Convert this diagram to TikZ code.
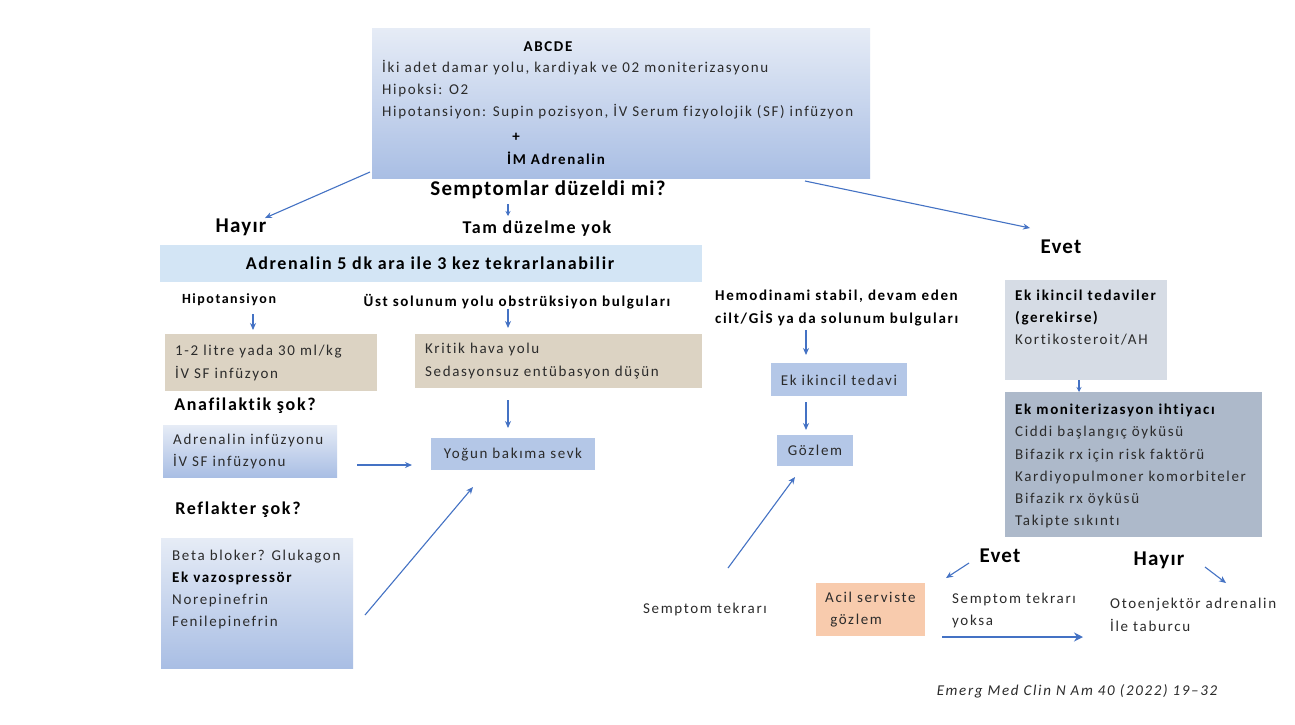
\documentclass[tikz,border=0pt]{standalone}
\usepackage{fontspec}
\setmainfont{Carlito}[LetterSpace=11, Ligatures=NoCommon]
\newfontfamily\hdfont{Carlito}[LetterSpace=6, Ligatures=NoCommon]
\newfontfamily\mdfont{Carlito}[LetterSpace=9, Ligatures=NoCommon]
\usetikzlibrary{arrows.meta}
\definecolor{arr}{HTML}{4472C4}
\definecolor{bluebox}{HTML}{B4C7E7}
\definecolor{beige}{HTML}{DCD3C3}
\definecolor{band}{HTML}{D3E5F5}
\definecolor{gtop}{HTML}{E6ECF6}
\definecolor{gbot}{HTML}{A9BEE4}
\definecolor{grey1}{HTML}{D6DCE5}
\definecolor{grey2}{HTML}{ADB9CA}
\definecolor{peach}{HTML}{F8CBAD}
\definecolor{txt}{HTML}{2B2B2B}
\tikzset{
  conn/.style={draw=arr, line width=1.1pt, -{Stealth[length=7pt,width=6pt]}},
  thickconn/.style={draw=arr, line width=2.6pt, -{Stealth[length=9pt,width=9pt]}},
  box/.style={draw=none, anchor=north west, inner sep=0pt, outer sep=0pt},
  gbox/.style={box, top color=gtop, bottom color=gbot},
  body/.style={anchor=north west, inner sep=0pt, align=left, text=txt, font=\fontsize{15}{22}\selectfont},
  bhead/.style={inner sep=0pt, text=black, font=\hdfont\fontsize{21}{24}\selectfont\bfseries},
  mhead/.style={inner sep=0pt, text=black, font=\mdfont\fontsize{18}{20}\selectfont\bfseries},
  shead/.style={inner sep=0pt, text=black, font=\fontsize{15}{22}\selectfont\bfseries, align=left},
  ltxt/.style={inner sep=0pt, text=txt, font=\fontsize{15}{16}\selectfont},
}
\begin{document}
\begin{tikzpicture}[x=1pt,y=-1pt]
\useasboundingbox (0,0) rectangle (1295,724);
\fill[white] (0,0) rectangle (1295,724);

% top box
\node[gbox, minimum width=498pt, minimum height=150pt] (top) at (372,28) {};
\node[shead] (abcde) at (548,47) {ABCDE};
\node[body] (toptext) at (382,60) {İki adet damar yolu, kardiyak ve 02 moniterizasyonu\\Hipoksi: O2\\Hipotansiyon: Supin pozisyon, İV Serum fizyolojik (SF) infüzyon};
\node[shead] (plus) at (516,137) {+};
\node[shead] (im) at (556,158) {İM Adrenalin};

\node[bhead] (sempt) at (548,190) {Semptomlar düzeldi mi?};
\node[bhead] (hayir1) at (241,227) {Hayır};
\node[mhead] (tam) at (537,229) {Tam düzelme yok};
\node[bhead] (evet1) at (1061,247) {Evet};

% band
\node[box, fill=band, minimum width=542pt, minimum height=37pt] (band) at (160,245) {};
\node[mhead] (bandtxt) at (430,263) {Adrenalin 5 dk ara ile 3 kez tekrarlanabilir};

\node[shead, font=\fontsize{14}{16}\selectfont\bfseries] (hipo) at (229,300) {Hipotansiyon};
\node[shead] (ust) at (517,302) {Üst solunum yolu obstrüksiyon bulguları};

\node[box, fill=beige, minimum width=212pt, minimum height=57pt] (sf) at (165,334) {};
\node[body, font=\fontsize{15}{23}\selectfont] (sftxt) at (175,345) {1-2 litre yada 30 ml/kg\\İV SF infüzyon};
\node[box, fill=beige, minimum width=287pt, minimum height=54pt] (krit) at (415,334) {};
\node[body, font=\fontsize{15}{23}\selectfont] (krittxt) at (425,343) {Kritik hava yolu\\Sedasyonsuz entübasyon düşün};

\node[mhead] (anaf) at (245,406) {Anafilaktik şok?};
\node[gbox, minimum width=174pt, minimum height=52pt] (anafbox) at (163,425) {};
\node[body] (anaftxt) at (173,434) {Adrenalin infüzyonu\\İV SF infüzyonu};

\node[box, fill=bluebox, minimum width=164pt, minimum height=32pt] (yogun) at (431,438) {};
\node[ltxt] (yoguntxt) at (513,455) {Yoğun bakıma sevk};

\node[mhead] (refl) at (238,510) {Reflakter şok?};
\node[gbox, minimum width=192pt, minimum height=130pt] (reflbox) at (161,538) {};
\node[body] (refltxt) at (172,550) {Beta bloker? Glukagon\\\textbf{\color{black}Ek vazospressör}\\Norepinefrin\\Fenilepinefrin};

% middle column
\node[shead, anchor=north west, font=\fontsize{15}{23}\selectfont\bfseries] (hemo) at (715,290) {Hemodinami stabil, devam eden\\cilt/GİS ya da solunum bulguları};
\node[box, fill=bluebox, minimum width=136pt, minimum height=33pt] (ekik) at (771,363) {};
\node[ltxt] (ekiktxt) at (839,380) {Ek ikincil tedavi};
\node[box, fill=bluebox, minimum width=76pt, minimum height=31pt] (gozlem) at (777,435) {};
\node[ltxt] (gozlemtxt) at (815,450) {Gözlem};
\node[ltxt] (stekrar) at (705,609) {Semptom tekrarı};

\node[box, fill=peach, minimum width=109pt, minimum height=53pt] (acil) at (816,583) {};
\node[body] (aciltxt) at (825,592) {Acil serviste\\\ gözlem};
\node[bhead] (evet2) at (1000,556) {Evet};
\node[body] (yoksa) at (952,593) {Semptom tekrarı\\yoksa};
\node[bhead] (hayir2) at (1159,560) {Hayır};
\node[body, font=\fontsize{15}{23}\selectfont] (oto) at (1110,598) {Otoenjektör adrenalin\\İle taburcu};
\node[inner sep=0pt, text=txt, font=\fontsize{15}{16}\selectfont\itshape] (cite) at (1077,691) {Emerg Med Clin N Am 40 (2022) 19–32};

% right column
\node[box, fill=grey1, minimum width=162pt, minimum height=100pt] (ekt) at (1005,280) {};
\node[body] (ekttxt) at (1015,290) {\textbf{\color{black}Ek ikincil tedaviler}\\\textbf{\color{black}(gerekirse)}\\Kortikosteroit/AH};
\node[box, fill=grey2, minimum width=257pt, minimum height=145pt] (ekm) at (1005,392) {};
\node[body, font=\fontsize{15}{22.2}\selectfont] (ekmtxt) at (1015,404) {\textbf{\color{black}Ek moniterizasyon ihtiyacı}\\Ciddi başlangıç öyküsü\\Bifazik rx için risk faktörü\\Kardiyopulmoner komorbiteler\\Bifazik rx öyküsü\\Takipte sıkıntı};

% arrow endpoints
\coordinate (a1s) at (370,172); \coordinate (a1e) at (265,218);
\coordinate (a2s) at (508,204); \coordinate (a2e) at (508,216);
\coordinate (a3s) at (805,181); \coordinate (a3e) at (1030,228);
\coordinate (a4s) at (253,314); \coordinate (a4e) at (253,330);
\coordinate (a5s) at (508,309); \coordinate (a5e) at (508,328);
\coordinate (a6s) at (508,400); \coordinate (a6e) at (508,428);
\coordinate (a7s) at (357,465); \coordinate (a7e) at (412,465);
\coordinate (a8s) at (365,615); \coordinate (a8e) at (473,487);
\coordinate (a9s) at (806,330); \coordinate (a9e) at (806,355);
\coordinate (a10s) at (806,402); \coordinate (a10e) at (806,430);
\coordinate (a11s) at (728,568); \coordinate (a11e) at (795,477);
\coordinate (a12s) at (1079,380); \coordinate (a12e) at (1079,392);
\coordinate (a13s) at (969,563); \coordinate (a13e) at (946,578);
\coordinate (a14s) at (942,637); \coordinate (a14e) at (1083,637);
\coordinate (a15s) at (1205,567); \coordinate (a15e) at (1226,583);

\draw[conn] (a1s) -- (a1e);
\draw[conn, -{Stealth[length=5pt,width=5pt]}] (a2s) -- (a2e);
\draw[conn] (a3s) -- (a3e);
\draw[conn] (a4s) -- (a4e);
\draw[conn] (a5s) -- (a5e);
\draw[conn] (a6s) -- (a6e);
\draw[conn] (a7s) -- (a7e);
\draw[conn] (a8s) -- (a8e);
\draw[conn] (a9s) -- (a9e);
\draw[conn] (a10s) -- (a10e);
\draw[conn] (a11s) -- (a11e);
\draw[conn, -{Stealth[length=5pt,width=5pt]}] (a12s) -- (a12e);
\draw[conn] (a13s) -- (a13e);
\draw[thickconn] (a14s) -- (a14e);
\draw[conn] (a15s) -- (a15e);
\end{tikzpicture}
\end{document}
